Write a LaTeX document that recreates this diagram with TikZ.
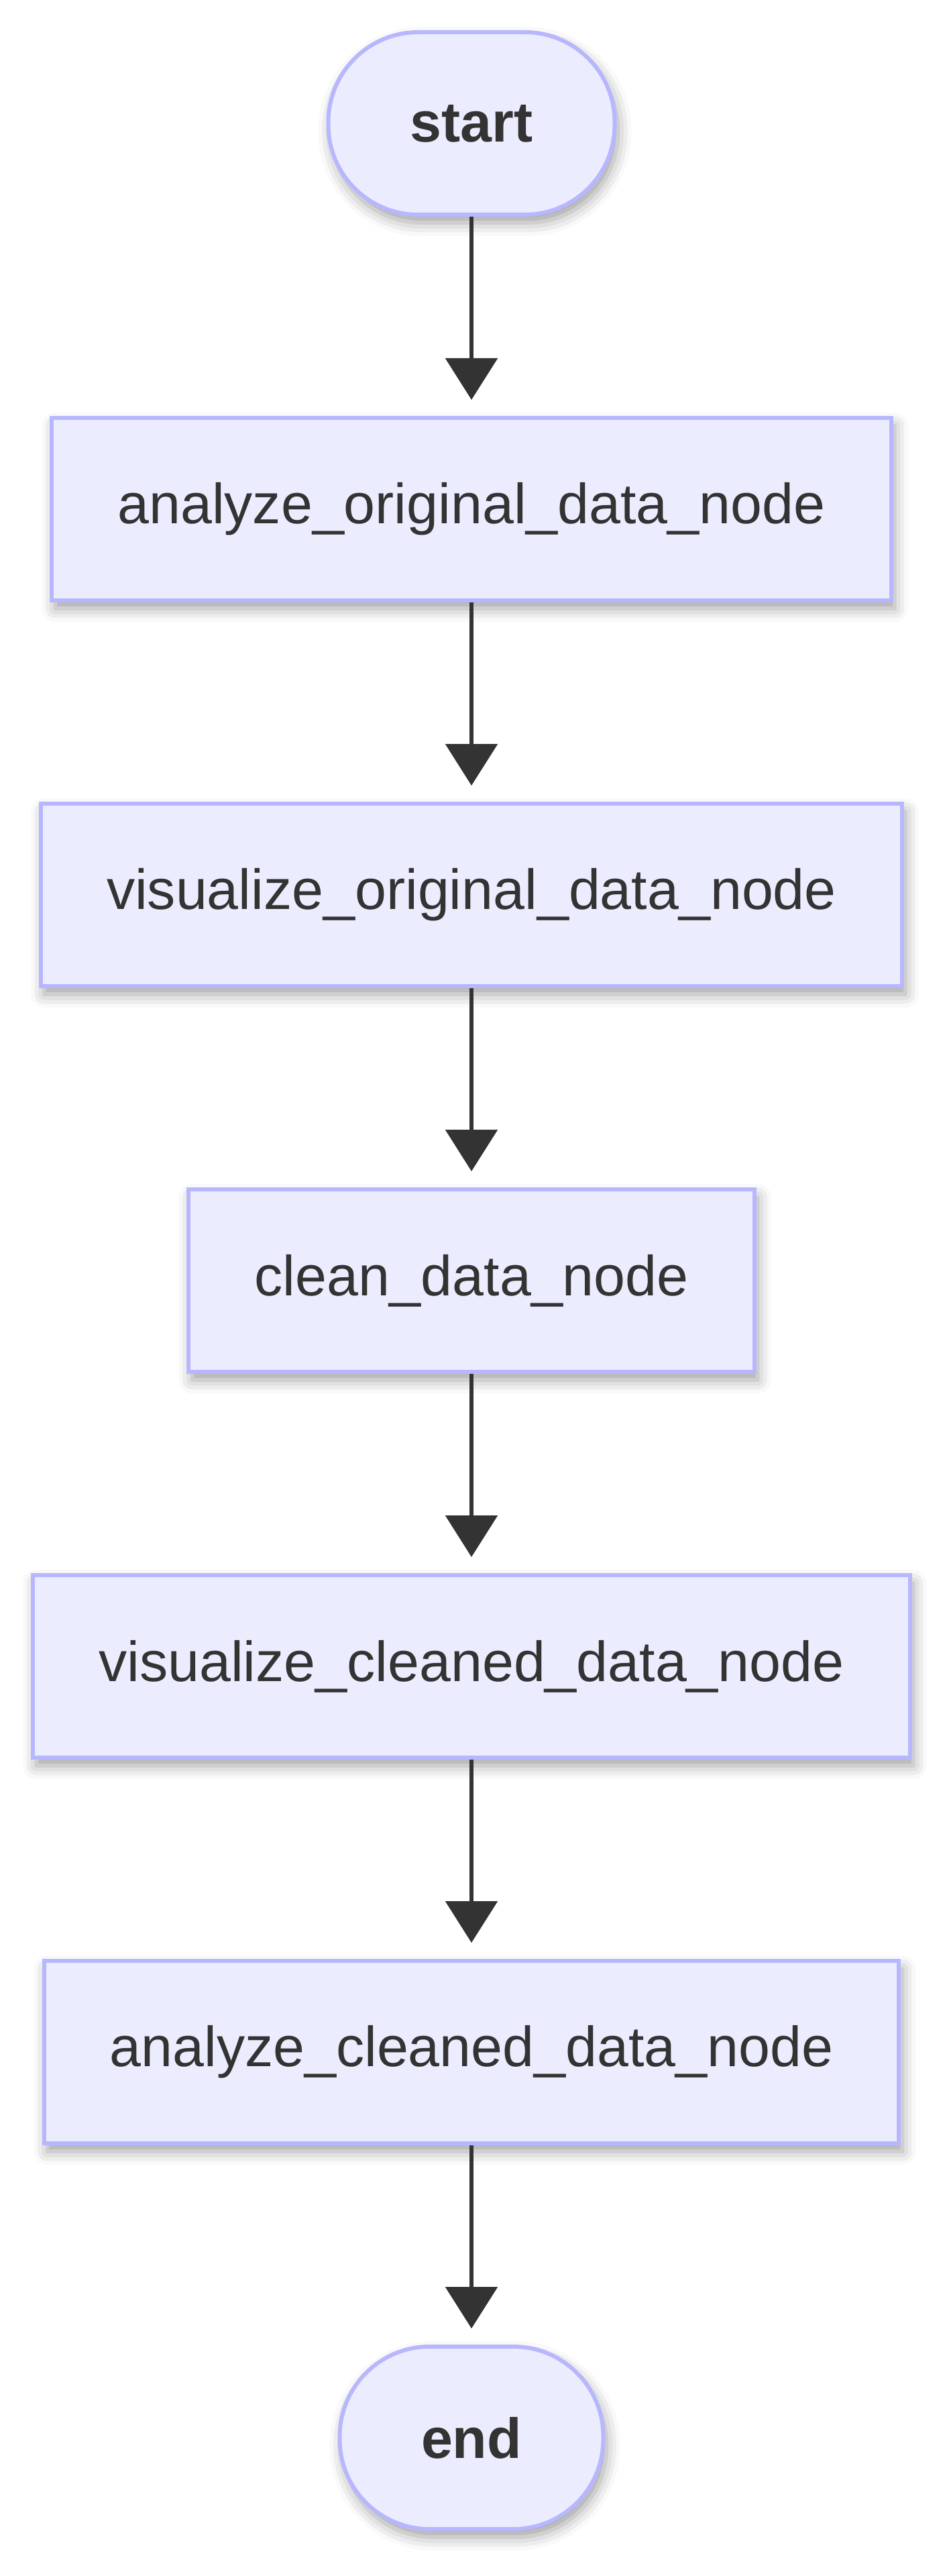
\documentclass[tikz,border=0pt]{standalone}
\usepackage{fontspec}
\setmainfont{Liberation Sans}
\usetikzlibrary{positioning, arrows.meta,
shadows.blur % soft shadow under the boxes
}
\definecolor{boxfill}{HTML}{ECECFF}
\definecolor{boxline}{HTML}{B7B7FF}
\definecolor{ink}{HTML}{333333}

\begin{document}
\begin{tikzpicture}[node distance=5.75cm,
  every node/.style={text=ink, font=\fontsize{24}{28}\selectfont},
  proc/.style={draw=boxline, fill=boxfill, line width=0.06cm, rectangle,
    minimum height=2.72cm, inner xsep=0.98cm,
    blur shadow={shadow xshift=0.05cm, shadow yshift=-0.12cm,
      shadow blur radius=0.2cm, shadow opacity=38}},
  terminal/.style={proc, rounded corners=1.34cm, font=\fontsize{24}{28}\selectfont\bfseries},
  flow/.style={draw=ink, line width=0.06cm,
    -{Triangle[width=0.77cm, length=0.62cm]}, shorten >=0.24cm}
]
  \useasboundingbox (0,0) rectangle (14.15,-38.40);

  \node[terminal, minimum width=4.27cm] at (7.03,-1.84) (start) {start};
    \node[proc, below of=start] (aod) {analyze\_original\_data\_node};
    \node[proc, below of=aod] (vod) {visualize\_original\_data\_node};
    \node[proc, below of=vod] (cd) {clean\_data\_node};
    \node[proc, below of=cd] (vcd) {visualize\_cleaned\_data\_node};
    \node[proc, below of=vcd] (acd) {analyze\_cleaned\_data\_node};
    \node[terminal, minimum width=3.93cm, below of=acd] (end) {end};

    \draw (start) edge[flow] (aod);
    \draw (aod) edge[flow] (vod);
    \draw (vod) edge[flow] (cd);
    \draw (cd) edge[flow] (vcd);
    \draw (vcd) edge[flow] (acd);
    \draw (acd) edge[flow] (end);
\end{tikzpicture}
\end{document}
